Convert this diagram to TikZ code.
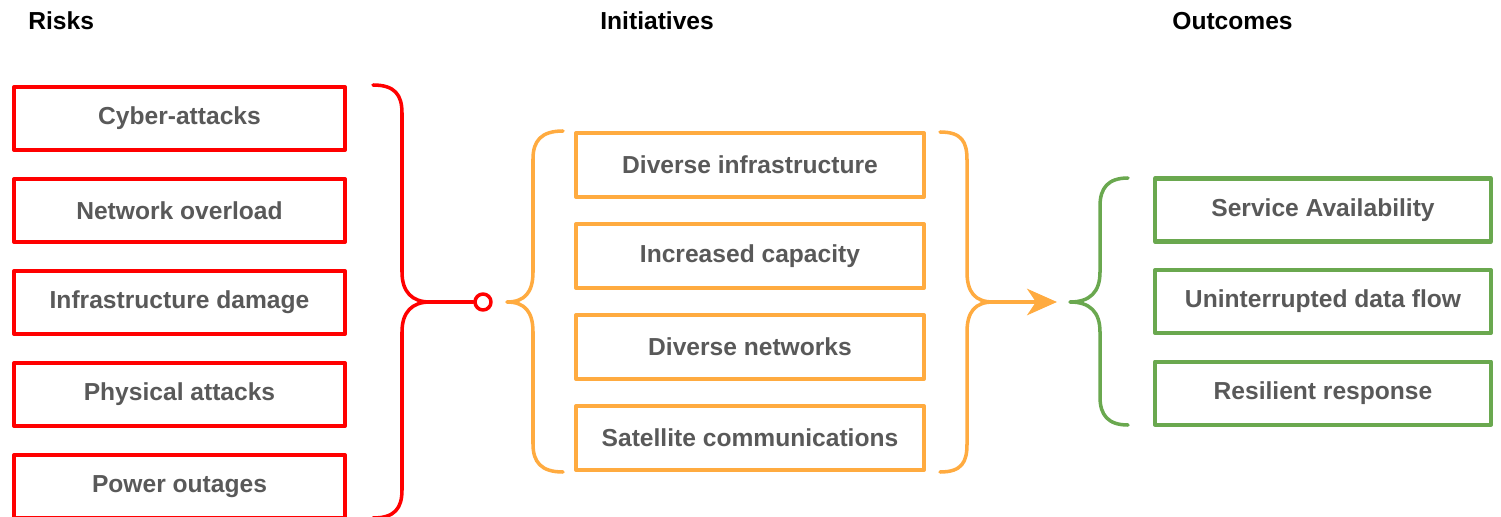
\documentclass[tikz,border=0pt]{standalone}
\usepackage{fontspec}
\setmainfont{Liberation Sans}
\usetikzlibrary{positioning}
\usetikzlibrary{arrows.meta}
\definecolor{riskred}{HTML}{FF0000}
\definecolor{initorange}{HTML}{FFAB40}
\definecolor{outgreen}{HTML}{6AA84F}
\definecolor{boxtext}{HTML}{595959}

\begin{document}
\begin{tikzpicture}[x=0.02cm,y=-0.02cm,line join=round,
  box/.style={draw,line width=2.3pt,minimum height=1.26cm,inner sep=0pt,text=boxtext,font=\fontsize{14}{16}\selectfont\bfseries},
  riskbox/.style={box,draw=riskred,minimum width=6.62cm},
  initbox/.style={box,draw=initorange,minimum width=6.96cm,minimum height=1.28cm},
  outbox/.style={box,draw=outgreen,minimum width=6.72cm},
  head/.style={anchor=west,inner sep=0pt,font=\fontsize{14}{16}\selectfont\bfseries},
  brace/.style={line width=2pt,line cap=round}]
  \useasboundingbox (0,0) rectangle (1501,517);

  \node[head] (risks) at (28,21) {Risks};
  \node[head] (inits) at (600,21) {Initiatives};
  \node[head] (outs) at (1172,21) {Outcomes};

  \node[riskbox] (cyber) at (179.5,118.5) {Cyber-attacks};
  \node[riskbox,below=0.5cm of cyber] (overload) {Network overload};
  \node[riskbox,below=0.5cm of overload] (damage) {Infrastructure damage};
  \node[riskbox,below=0.5cm of damage] (physical) {Physical attacks};
  \node[riskbox,below=0.5cm of physical] (power) {Power outages};

  \node[initbox] (diverse) at (750,165) {Diverse infrastructure};
  \node[initbox,below=0.46cm of diverse] (capacity) {Increased capacity};
  \node[initbox,below=0.46cm of capacity] (networks) {Diverse networks};
  \node[initbox,below=0.46cm of networks] (satellite) {Satellite communications};

  \node[outbox] (avail) at (1323,210) {Service Availability};
  \node[outbox,below=0.49cm of avail] (dataflow) {Uninterrupted data flow};
  \node[outbox,below=0.49cm of dataflow] (resilient) {Resilient response};

  \coordinate (redtip) at (430,302);
  \coordinate (orgin) at (507,302);
  \coordinate (orgout) at (993,302);
  \coordinate (grntip) at (1070,302);

  \draw[brace,riskred] (373,85) .. controls (395,85) and (402,95) .. (402,113) -- (402,272)
    .. controls (402,292) and (412,302) .. (redtip) .. controls (412,302) and (402,312) .. (402,332)
    -- (402,490) .. controls (402,508) and (395,518) .. (373,518);
  \draw[brace,initorange] (563,131) .. controls (541,131) and (533,141) .. (533,159) -- (533,272)
    .. controls (533,292) and (525,302) .. (orgin) .. controls (525,302) and (533,312) .. (533,332)
    -- (533,444) .. controls (533,462) and (541,472) .. (563,472);
  \draw[brace,initorange] (940,132) .. controls (962,132) and (967,142) .. (967,160) -- (967,272)
    .. controls (967,292) and (975,302) .. (orgout) .. controls (975,302) and (967,312) .. (967,332)
    -- (967,444) .. controls (967,462) and (962,472) .. (940,472);
  \draw[brace,outgreen] (1128,178) .. controls (1108,178) and (1100,188) .. (1100,206) -- (1100,272)
    .. controls (1100,292) and (1090,302) .. (grntip) .. controls (1090,302) and (1100,312) .. (1100,332)
    -- (1100,397) .. controls (1100,415) and (1108,425) .. (1128,425);

  \node[draw=riskred,line width=2pt,circle,fill=white,minimum size=0.32cm,inner sep=0pt] (joint) at (483,302) {};
  \draw[brace,riskred] (redtip) -- (joint);
  \draw[brace,initorange,-{Stealth[length=17pt,width=15pt,inset=5pt]},shorten >=13*0.02cm] (orgout) -- (grntip);
\end{tikzpicture}
\end{document}
